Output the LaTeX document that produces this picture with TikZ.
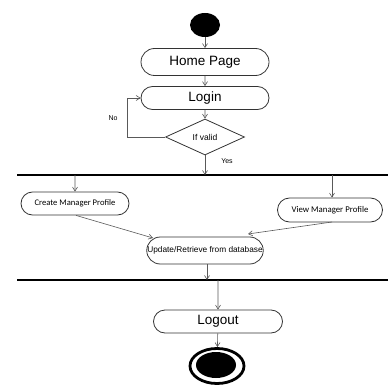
\documentclass[tikz,border=0pt]{standalone}
\usepackage{fontspec}
\setmainfont{Liberation Sans}
\newfontfamily\calib{Carlito}
\usetikzlibrary{arrows.meta,shapes.geometric,shapes.misc}
\begin{document}
\begin{tikzpicture}[x=1pt,y=-1pt,
  conn/.style={draw=black!65,line width=0.6pt,-{Straight Barb[length=4pt,width=5pt]}},
  act/.style={draw=black!80,line width=0.8pt,rounded rectangle,inner sep=0pt,align=center},
  bar/.style={draw=black,line width=2.6pt},
  lbl/.style={font=\fontsize{7}{8}\selectfont,inner sep=0pt}]
\useasboundingbox (0,0) rectangle (388,385);
% start
\node[ellipse,fill=black,minimum width=30pt,minimum height=24pt,inner sep=0pt] (start) at (205,25) {};
\node[act,minimum width=128pt,minimum height=27pt,font=\fontsize{13.5}{15}\selectfont] (home) at (205,62) {Home Page};
\node[act,minimum width=128pt,minimum height=23pt,font=\fontsize{13.5}{15}\selectfont] (login) at (205,98) {Login};
\node[diamond,aspect=2.2,draw=black!80,line width=0.8pt,minimum width=79pt,minimum height=36pt,inner sep=0pt,font=\fontsize{8.5}{10}\selectfont] (valid) at (205,137) {If valid};
\draw[conn] (start) -- (home);
\draw[conn] (home) -- (login);
\draw[conn] (login) -- (valid);
\coordinate (nocorner1) at (127,137);
\coordinate (nocorner2) at (127,98);
\draw[conn] (valid.west) -- (nocorner1) -- (nocorner2) -- (login.west);
\node[lbl] (no) at (113,118) {No};
% bar 1
\coordinate (b1l) at (17,175);
\coordinate (b1r) at (388,175);
\draw[bar] (b1l) -- (b1r);
\coordinate (b1c) at (205,175);
\draw[conn] (valid.south) -- (b1c);
\node[lbl] (yes) at (227,161) {Yes};
% branch activities
\node[act,minimum width=108pt,minimum height=23pt,font=\calib\fontsize{8.6}{10}\selectfont] (create) at (75,203.5) {Create Manager Profile};
\node[act,minimum width=105pt,minimum height=24pt,font=\calib\fontsize{8.8}{10}\selectfont] (view) at (330,210) {View Manager Profile};
\coordinate (b1a) at (75,175);
\coordinate (b1b) at (332,175);
\draw[conn] (b1a) -- (create);
\draw[conn] (b1b) -- (view.north -| b1b);
\node[act,minimum width=116pt,minimum height=27pt,font=\fontsize{8.3}{9}\selectfont] (update) at (205,250.5) {Update/Retrieve from database};
\draw[conn] (create.south) ++(1,0) coordinate (cs) -- (153,238);
\draw[conn] (332,222) -- (248,234);
% bar 2
\coordinate (b2l) at (17,280);
\coordinate (b2r) at (388,280);
\draw[bar] (b2l) -- (b2r);
\coordinate (b2u) at (207,280);
\draw[conn] (207,264) -- (b2u);
\node[act,minimum width=129pt,minimum height=23pt,font=\fontsize{13.5}{15}\selectfont] (logout) at (218,321.5) {Logout};
\coordinate (b2d) at (218,280);
\draw[conn] (b2d) -- (logout);
% end
\node[ellipse,draw=black,line width=2.8pt,minimum width=54pt,minimum height=35pt,inner sep=0pt] (endo) at (217,366) {};
\node[ellipse,fill=black,minimum width=40pt,minimum height=26pt,inner sep=0pt] (endi) at (216,365) {};
\draw[conn] (logout) -- (endo);
\end{tikzpicture}
\end{document}
